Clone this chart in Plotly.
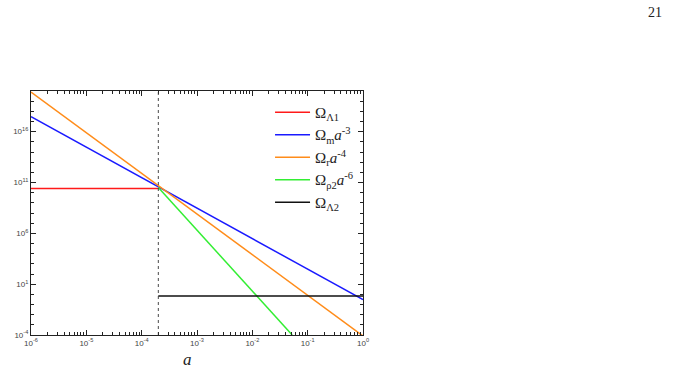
import plotly.graph_objects as go

# Series endpoints; power laws are straight on log-log axes
a_lambda1 = [1e-6, 2e-4]
v_lambda1 = [2.5e10, 2.5e10]
a_matter = [1e-6, 1.0]
v_matter = [3e17, 0.3]
a_rad = [1e-6, 1.0]
v_rad = [8e19, 8e-5]
a_rho2 = [2e-4, 0.0525]
v_rho2 = [3.2e10, 1e-4]
a_lambda2 = [2e-4, 1.0]
v_lambda2 = [0.7, 0.7]
a_transition = 2e-4

names = ["Ω<sub>Λ1</sub>", "Ω<sub>m</sub><i>a</i><sup>-3</sup>", "Ω<sub>r</sub><i>a</i><sup>-4</sup>",
         "Ω<sub>ρ2</sub><i>a</i><sup>-6</sup>", "Ω<sub>Λ2</sub>"]
colors = ["#ff1a1a", "#1a1aff", "#ff8c1a", "#33ee33", "#111111"]

x_tickvals = [1e-6, 1e-5, 1e-4, 1e-3, 1e-2, 1e-1, 1e0]
x_ticktext = ["10<sup>-6</sup>", "10<sup>-5</sup>", "10<sup>-4</sup>", "10<sup>-3</sup>",
              "10<sup>-2</sup>", "10<sup>-1</sup>", "10<sup>0</sup>"]
y_tickvals = [1e-4, 1e1, 1e6, 1e11, 1e16]
y_ticktext = ["10<sup>-4</sup>", "10<sup>1</sup>", "10<sup>6</sup>", "10<sup>11</sup>", "10<sup>16</sup>"]

x_minor = [m * 10.0 ** e for e in range(-6, 0) for m in range(2, 10)]
y_minor = [10.0 ** e for e in range(-4, 21)]

fig = go.Figure()
series = [(a_lambda1, v_lambda1), (a_matter, v_matter), (a_rad, v_rad), (a_rho2, v_rho2), (a_lambda2, v_lambda2)]
for (xs, ys), n, c in zip(series, names, colors):
    fig.add_trace(go.Scatter(x=xs, y=ys, mode="lines", name=n, line=dict(color=c, width=1.5)))

fig.add_shape(type="line", xref="x", yref="paper", x0=a_transition, x1=a_transition, y0=0, y1=1,
              line=dict(color="#333333", width=0.9, dash="3px,3px"))

tickfont = dict(family="Arial, Liberation Sans, sans-serif", size=8, color="#444444")
fig.update_xaxes(type="log", range=[-6, 0], tickvals=x_tickvals, ticktext=x_ticktext,
                 ticks="inside", ticklen=5, tickcolor="#222", showline=True, linecolor="#222",
                 linewidth=1.2, mirror="ticks", showgrid=False, zeroline=False, tickfont=tickfont,
                 minor=dict(tickvals=x_minor, ticks="inside", ticklen=3, tickcolor="#222", showgrid=False))
fig.update_yaxes(type="log", range=[-4, 20], tickvals=y_tickvals, ticktext=y_ticktext,
                 ticks="inside", ticklen=5, tickcolor="#222", showline=True, linecolor="#222",
                 linewidth=1.2, mirror="ticks", showgrid=False, zeroline=False, tickfont=tickfont,
                 minor=dict(tickvals=y_minor, ticks="inside", ticklen=3, tickcolor="#222", showgrid=False))

fig.add_annotation(text="<i>a</i>", xref="paper", yref="paper", x=0.47, y=-0.10, xanchor="center",
                   yanchor="middle", showarrow=False,
                   font=dict(family="Liberation Serif, Times New Roman, serif", size=17, color="#222"))
fig.add_annotation(text="21", xref="paper", yref="paper", x=1.88, y=1.32, xanchor="center",
                   yanchor="middle", showarrow=False,
                   font=dict(family="Liberation Serif, Times New Roman, serif", size=14, color="#222"))

fig.update_layout(
    width=700, height=373, margin=dict(l=31, r=337, t=91, b=38),
    paper_bgcolor="white", plot_bgcolor="white", showlegend=True,
    legend=dict(x=0.72, y=0.98, xanchor="left", yanchor="top", bgcolor="rgba(0,0,0,0)",
                font=dict(family="Liberation Serif, Times New Roman, serif", size=15, color="#222"),
                itemwidth=35, tracegroupgap=2),
)

fig.write_html("out.html")
